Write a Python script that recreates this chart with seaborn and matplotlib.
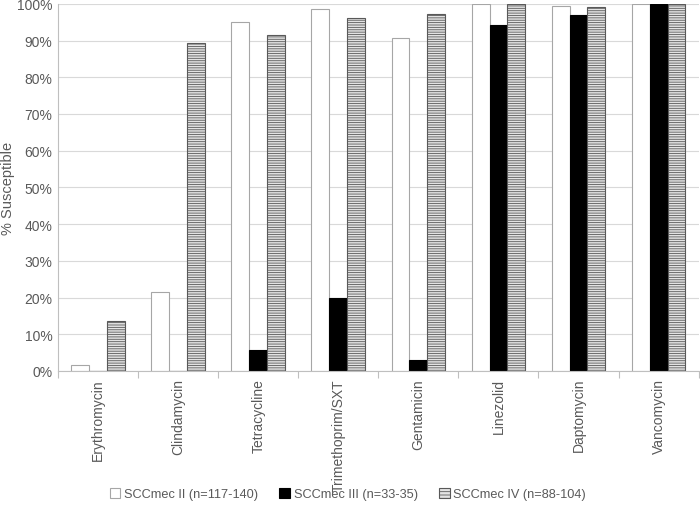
import matplotlib
matplotlib.use("Agg")
import matplotlib.pyplot as plt
import matplotlib.patches as mpatches
from matplotlib.ticker import PercentFormatter, FixedLocator
import seaborn as sns
import pandas as pd

antibiotics = ["Erythromycin", "Clindamycin", "Tetracycline", "Trimethoprim/SXT",
               "Gentamicin", "Linezolid", "Daptomycin", "Vancomycin"]
groups = ["SCCmec II (n=117-140)", "SCCmec III (n=33-35)", "SCCmec IV (n=88-104)"]
sccmec_ii = [1.6, 21.6, 95.0, 98.6, 90.6, 100.0, 99.3, 100.0]
sccmec_iii = [0.0, 0.0, 5.7, 20.0, 2.9, 94.2, 97.0, 100.0]
sccmec_iv = [13.6, 89.3, 91.4, 96.2, 97.2, 100.0, 99.0, 100.0]

rows = []
for g, vals in zip(groups, [sccmec_ii, sccmec_iii, sccmec_iv]):
    for a, v in zip(antibiotics, vals):
        rows.append({"Antibiotic": a, "Group": g, "Value": v})
df = pd.DataFrame(rows)

sns.set_theme(style="white")
plt.rcParams["font.family"] = ["Liberation Sans", "DejaVu Sans"]
plt.rcParams["hatch.linewidth"] = 0.6
plt.rcParams["hatch.color"] = "#7a7a7a"

fig = plt.figure(figsize=(7.0, 5.1), dpi=100)
ax = fig.add_axes([0.083, 0.2706, 0.915, 0.72])

sns.barplot(data=df, x="Antibiotic", y="Value", hue="Group", order=antibiotics,
            hue_order=groups, palette=["white", "black", "#d9d9d9"],
            width=0.67, gap=0, errorbar=None, ax=ax, legend=False, saturation=1)

styles = [
    dict(facecolor="white", edgecolor="#a6a6a6", hatch=None, lw=0.8),
    dict(facecolor="black", edgecolor="black", hatch=None, lw=0.8),
    dict(facecolor="#e3e3e3", edgecolor="#595959", hatch="-------", lw=0.8),
]
for cont, st in zip(ax.containers, styles):
    for p in cont:
        p.set_facecolor(st["facecolor"])
        p.set_edgecolor(st["edgecolor"])
        p.set_linewidth(st["lw"])
        if st["hatch"]:
            p.set_hatch(st["hatch"])

ax.set_ylim(0, 100)
ax.set_xlim(-0.5, len(antibiotics) - 0.5)
ax.set_yticks(range(0, 101, 10))
ax.yaxis.set_major_formatter(PercentFormatter(decimals=0))
ax.yaxis.grid(True, color="#d9d9d9", lw=0.8)
ax.set_axisbelow(True)
ax.set_xlabel("")
ax.set_ylabel("% Susceptible", color="#595959", fontsize=10.5)
ax.yaxis.set_label_coords(-0.068, 0.5)

ax.set_xticks(range(len(antibiotics)))
ax.set_xticklabels(antibiotics, rotation=90, color="#595959", fontsize=10)
ax.xaxis.set_minor_locator(FixedLocator([i - 0.5 for i in range(len(antibiotics) + 1)]))
ax.tick_params(axis="x", which="major", length=0, pad=5)
ax.tick_params(axis="x", which="minor", length=5, color="#bfbfbf", width=0.8, bottom=True)
ax.tick_params(axis="y", length=0, labelsize=10, labelcolor="#595959", pad=4)

for s in ["top", "right"]:
    ax.spines[s].set_visible(False)
for s in ["left", "bottom"]:
    ax.spines[s].set_color("#bfbfbf")
    ax.spines[s].set_linewidth(0.8)

handles = [mpatches.Patch(facecolor=st["facecolor"], edgecolor=st["edgecolor"],
                          hatch=("-----" if st["hatch"] else None), lw=0.8)
           for st in styles]
fig.legend(handles, groups, loc="center", bbox_to_anchor=(0.497, 0.029), ncol=3,
           frameon=False, fontsize=9.2, handlelength=0.8, handleheight=0.8,
           handletextpad=0.3, columnspacing=1.7, labelcolor="#595959")

fig.savefig("out.png", dpi=100)
